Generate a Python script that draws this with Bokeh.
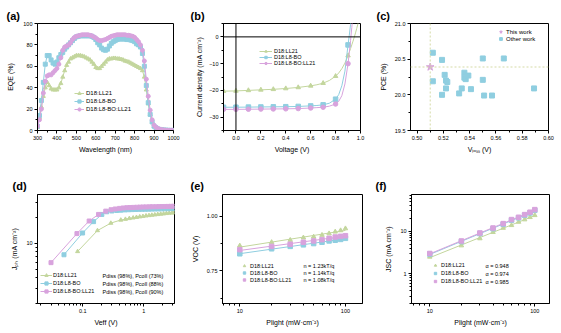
import numpy as np
from bokeh.plotting import figure
from bokeh.layouts import column, row
from bokeh.models import (Legend, LegendItem, Label, Span, FixedTicker,
                          PrintfTickFormatter, CustomJSTickFormatter, Range1d)
from bokeh.embed import file_html
from bokeh.resources import INLINE

FONT = "Liberation Sans"
GREEN = "#c3d69d"
BLUE = "#8fcee0"
PINK = "#d8a3dd"
GUIDE = "#d5dba6"

series_names = ["D18:LL21", "D18:L8-BO", "D18:L8-BO:LL21"]

# ---------------- (a) EQE ----------------
wavelength = list(range(300, 1001, 10))
eqe_ll21 = [3, 12, 22, 32, 40, 45, 42, 39, 38, 38,
            38, 40, 44, 50, 56, 61, 64, 67, 68, 69,
            70, 70, 70, 69.5, 69, 68, 67, 66, 64, 62,
            59, 58, 58, 60, 62, 64, 66, 67, 67, 67.5,
            67.5, 67, 67, 66.5, 66, 65, 64.5, 64, 63, 62,
            61, 60, 59, 58, 56, 50, 38, 25, 15, 8,
            4, 2.5, 1.5, 1, 0.7, 0.5, 0.3, 0.2, 0.2, 0.1,
            0.1]
eqe_l8bo = [4, 14, 28, 45, 62, 70, 70, 66, 63, 62,
            64, 68, 71, 73, 76, 78, 80, 82, 84, 86,
            87.5, 88, 88.5, 88.5, 88.5, 88.5, 88.5, 88.5, 88, 87,
            85, 82, 80, 77, 75.5, 75, 76, 79, 81.5, 83,
            84, 85, 85.5, 85.5, 85.5, 85.5, 85, 85, 84.5, 84,
            83, 81, 80, 78, 72, 60, 42, 26, 15, 8,
            4, 2.5, 1.5, 1, 0.6, 0.4, 0.3, 0.2, 0.1, 0.1,
            0.1]
eqe_tern = [4, 10, 20, 35, 46, 51, 52, 52, 54, 56,
            58, 62, 68, 75, 78, 79, 80, 82, 85, 87,
            88, 88.5, 89, 89.5, 89.5, 89.5, 89.5, 89, 88.5, 87.5,
            86.5, 85, 84, 84, 84.5, 85, 86, 87, 88, 88.5,
            89, 89.5, 89.5, 89.5, 89.5, 89.5, 89, 89, 88.5, 88,
            87, 85, 83, 80, 75, 65, 48, 32, 19, 10,
            5, 3, 1.8, 1.2, 0.8, 0.5, 0.3, 0.2, 0.1, 0.1,
            0.1]
a_xticks = [300, 400, 500, 600, 700, 800, 900, 1000]
a_yticks = [0, 20, 40, 60, 80, 100]

# ---------------- (b) J-V ----------------
jv_v_marker = [-0.1, 0.0, 0.1, 0.2, 0.3, 0.4, 0.5, 0.6, 0.7, 0.8, 0.9]
jv_ll21_marker = [-20.3, -20.2, -20.0, -19.8, -19.6, -19.3, -18.9, -18.3, -17.3, -14.7, -7.0]
jv_l8bo_marker = [-26.3, -26.3, -26.25, -26.2, -26.15, -26.1, -26.0, -25.8, -25.4, -23.3, -3.0]
jv_tern_marker = [-27.1, -27.1, -27.05, -27.0, -26.95, -26.9, -26.8, -26.6, -26.3, -25.1, -10.0]
jv_v_line = [-0.1, 0.0, 0.1, 0.2, 0.3, 0.4, 0.5, 0.6, 0.65, 0.7, 0.75, 0.8, 0.825,
             0.85, 0.875, 0.9, 0.91, 0.92, 0.93, 0.94, 0.95, 0.96, 0.97, 0.98, 1.0]
jv_ll21_line = [-20.3, -20.2, -20.0, -19.8, -19.6, -19.3, -18.9, -18.3, -17.9, -17.3, -16.3,
                -14.7, -13.5, -11.9, -9.8, -7.0, -5.7, -4.4, -3.0, -1.6, -0.1, 1.5, 3.2, 5.0, 8.8]
jv_l8bo_line = [-26.3, -26.3, -26.25, -26.2, -26.15, -26.1, -26.0, -25.8, -25.65, -25.4, -24.8,
                -23.3, -21.6, -18.3, -12.8, -3.0, 0.6, 4.6, 9.0, 14, 19, 24, 29, 34, 44]
jv_tern_line = [-27.1, -27.1, -27.05, -27.0, -26.95, -26.9, -26.8, -26.6, -26.45, -26.3, -25.9,
                -25.1, -24.1, -22.0, -17.6, -10.0, -5.9, -1.4, 3.5, 8.6, 14, 19, 24, 29, 39]
b_xticks = [0.0, 0.2, 0.4, 0.6, 0.8, 1.0]
b_yticks = [-30, -20, -10, 0]

# ---------------- (c) PCE vs Vloss ----------------
other_vloss = [0.512, 0.519, 0.512, 0.521, 0.522, 0.523, 0.522, 0.519, 0.536, 0.536, 0.537,
               0.539, 0.534, 0.532, 0.541, 0.550, 0.550, 0.551, 0.557, 0.566, 0.589]
other_pce = [20.59, 20.49, 20.19, 20.28, 20.20, 20.18, 20.09, 20.00, 20.31, 20.24, 20.22,
             20.27, 20.09, 20.02, 20.08, 20.51, 20.21, 19.99, 19.99, 20.51, 20.09]
this_vloss = [0.510]
this_pce = [20.39]
c_xticks = [0.50, 0.52, 0.54, 0.56, 0.58, 0.60]
c_yticks = [19.5, 20.0, 20.5, 21.0]

# ---------------- (d) Jph vs Veff ----------------
veff_ll21 = [0.082, 0.174, 0.288, 0.42, 0.50, 0.58, 0.67, 0.76, 0.86, 0.97, 1.09,
             1.22, 1.36, 1.52, 1.70, 1.90, 2.12, 2.36, 2.62, 2.90, 3.15]
jph_ll21 = [8.05, 14.1, 17.2, 18.7, 19.1, 19.5, 19.8, 20.1, 20.4, 20.6, 20.9,
            21.1, 21.3, 21.5, 21.7, 21.9, 22.1, 22.3, 22.5, 22.6, 22.7]
veff_l8bo = [0.049, 0.099, 0.150, 0.205, 0.247, 0.30, 0.36, 0.42, 0.49, 0.56, 0.64, 0.73,
             0.83, 0.94, 1.06, 1.20, 1.35, 1.52, 1.72, 1.95, 2.2, 2.5, 2.8, 3.1]
jph_l8bo = [7.37, 13.2, 17.9, 21.7, 23.3, 23.8, 24.1, 24.3, 24.5, 24.6, 24.7, 24.8,
            24.85, 24.9, 24.95, 25.0, 25.05, 25.1, 25.15, 25.2, 25.25, 25.3, 25.35, 25.4]
veff_tern = [0.030, 0.080, 0.127, 0.181, 0.238, 0.29, 0.34, 0.40, 0.46, 0.53, 0.60, 0.68,
             0.77, 0.87, 0.98, 1.10, 1.25, 1.40, 1.60, 1.80, 2.00, 2.25, 2.50, 2.80, 3.10]
jph_tern = [5.97, 13.0, 18.2, 21.7, 23.7, 24.6, 25.1, 25.5, 25.8, 26.0, 26.1, 26.2,
            26.3, 26.4, 26.5, 26.55, 26.6, 26.65, 26.7, 26.75, 26.8, 26.85, 26.9, 26.95, 27.0]
p_labels = ["Pdiss (98%), Pcoll (73%)", "Pdiss (98%), Pcoll (88%)", "Pdiss (98%), Pcoll (90%)"]
d_xticks = [0.1, 1]
d_yticks = [10]

# ---------------- (e) Voc vs Plight ----------------
light = [10, 20, 30, 40, 50, 60, 70, 80, 90, 100]
voc_ll21 = [0.865, 0.881, 0.891, 0.902, 0.906, 0.914, 0.921, 0.929, 0.935, 0.944]
voc_l8bo = [0.828, 0.851, 0.862, 0.869, 0.875, 0.881, 0.887, 0.890, 0.894, 0.899]
voc_tern = [0.847, 0.862, 0.872, 0.881, 0.887, 0.893, 0.899, 0.905, 0.908, 0.911]
n_labels = ["n = 1.23kT/q", "n = 1.14kT/q", "n = 1.08kT/q"]
e_xticks = [10, 100]
e_yticks = [0.75, 1.00]

# ---------------- (f) Jsc vs Plight ----------------
jsc_ll21 = [2.5, 4.6, 6.75, 9.5, 11.9, 13.8, 16.5, 18.8, 21.3, 23.7]
jsc_l8bo = [2.9, 5.7, 8.8, 11.5, 14.6, 18.2, 20.6, 23.8, 27.0, 31.0]
jsc_tern = [3.0, 5.9, 9.1, 11.9, 15.1, 18.8, 21.3, 24.6, 28.0, 32.2]
alpha_labels = ["α = 0.948", "α = 0.974", "α = 0.985"]
f_xticks = [10, 100]
f_yticks = [1, 10]

COLORS = [GREEN, BLUE, PINK]


def make_fig(w, h, l, r, t, b, xr, yr, xt="linear", yt="linear", xlab="", ylab="",
             ylab_standoff=4, title="", title_offset=-31, title_standoff=3):
    p = figure(width=w, height=h, x_range=xr, y_range=yr, x_axis_type=xt, y_axis_type=yt,
               output_backend="svg", toolbar_location=None,
               min_border_left=l, min_border_right=r, min_border_top=t, min_border_bottom=b)
    p.xgrid.visible = False
    p.ygrid.visible = False
    p.outline_line_color = "black"
    p.outline_line_width = 1
    p.outline_line_alpha = 1
    p.background_fill_color = "white"
    p.border_fill_color = "white"
    p.title.text = title
    p.title.align = "left"
    p.title.offset = title_offset
    p.title.standoff = title_standoff
    p.title.text_font = FONT
    p.title.text_font_size = "11px"
    p.title.text_font_style = "bold"
    p.title.text_color = "black"
    for ax in (p.xaxis[0], p.yaxis[0]):
        ax.axis_line_color = "black"
        ax.axis_line_width = 1
        ax.major_tick_line_color = "black"
        ax.minor_tick_line_color = "black"
        ax.major_tick_out = 3
        ax.major_tick_in = 0
        ax.minor_tick_out = 2
        ax.minor_tick_in = 0
        ax.major_label_text_font = FONT
        ax.major_label_text_font_size = "5.5px"
        ax.major_label_text_color = "black"
        ax.axis_label_text_font = FONT
        ax.axis_label_text_font_size = "7px"
        ax.axis_label_text_font_style = "normal"
        ax.axis_label_text_color = "black"
        ax.major_label_standoff = 2
    p.xaxis[0].axis_label = xlab
    p.yaxis[0].axis_label = ylab
    p.xaxis[0].axis_label_standoff = 3
    p.yaxis[0].axis_label_standoff = ylab_standoff
    return p


def add_legend(p, items, x, y, h, gw, fs="6px", standoff=2):
    leg = Legend(items=items, location=(x, y), padding=0, spacing=0, margin=0,
                 label_height=h, glyph_height=h, glyph_width=gw, label_standoff=standoff,
                 label_text_font=FONT, label_text_font_size=fs, label_text_color="black",
                 background_fill_alpha=0, border_line_alpha=0)
    p.add_layout(leg)
    return leg


def add_side_texts(p, texts, x, y, h, fs="5.5px"):
    n = len(texts)
    for i, t in enumerate(texts):
        p.add_layout(Label(x=x, y=y + n * h - (i + 0.5) * h, x_units="screen", y_units="screen",
                           text=t, text_font=FONT, text_font_size=fs, text_baseline="middle",
                           text_align="left", text_color="black"))


def js_fmt():
    return CustomJSTickFormatter(code="return String(tick);")


# ======== (a) ========
pa = make_fig(187, 166, 37, 14, 23, 35, Range1d(300, 1000), Range1d(0, 100),
              xlab="Wavelength (nm)", ylab="EQE (%)", ylab_standoff=6,
              title="(a)", title_offset=-31)
pa.xaxis[0].ticker = FixedTicker(ticks=a_xticks, minor_ticks=[350, 450, 550, 650, 750, 850, 950])
pa.yaxis[0].ticker = FixedTicker(ticks=a_yticks, minor_ticks=[10, 30, 50, 70, 90])
items = []
for ys, c, m, nm in zip([eqe_ll21, eqe_l8bo, eqe_tern], COLORS, ["triangle", "square", "circle"], series_names):
    lr = pa.line(wavelength, ys, color=c, line_width=1)
    sr = pa.scatter(wavelength, ys, marker=m, size=4, color=c)
    items.append(LegendItem(label=nm, renderers=[lr, sr]))
add_legend(pa, items, 37, 17, 8, 10)

# ======== (b) ========
pb = make_fig(187, 166, 36, 14, 23, 36, Range1d(-0.1, 1.0), Range1d(-35, 5),
              xlab="Voltage (V)", ylab="Current density (mA cm⁻²)", ylab_standoff=3,
              title="(b)", title_offset=-33)
pb.xaxis[0].ticker = FixedTicker(ticks=b_xticks, minor_ticks=[-0.1, 0.1, 0.3, 0.5, 0.7, 0.9])
pb.xaxis[0].formatter = PrintfTickFormatter(format="%.1f")
pb.yaxis[0].ticker = FixedTicker(ticks=b_yticks, minor_ticks=[-35, -25, -15, -5, 5])
pb.add_layout(Span(location=0, dimension="width", line_color="black", line_width=1))
pb.add_layout(Span(location=0, dimension="height", line_color="black", line_width=1))
items = []
for yl, ym, c, m, nm in zip([jv_ll21_line, jv_l8bo_line, jv_tern_line],
                            [jv_ll21_marker, jv_l8bo_marker, jv_tern_marker],
                            COLORS, ["triangle", "square", "circle"], series_names):
    lr = pb.line(jv_v_line, yl, color=c, line_width=1)
    sr = pb.scatter(jv_v_marker, ym, marker=m, size=4.5, color=c)
    items.append(LegendItem(label=nm, renderers=[lr, sr]))
add_legend(pb, items, 36, 64, 6, 13, fs="5.5px")

# ======== (c) ========
pc = make_fig(187, 166, 36, 13, 23, 33, Range1d(0.495, 0.60), Range1d(19.5, 21.0),
              xlab="Vₗₒₛₛ (V)", ylab="PCE (%)", ylab_standoff=5,
              title="(c)", title_offset=-34)
pc.xaxis[0].ticker = FixedTicker(ticks=c_xticks, minor_ticks=[0.51, 0.53, 0.55, 0.57, 0.59])
pc.xaxis[0].formatter = PrintfTickFormatter(format="%.2f")
pc.yaxis[0].ticker = FixedTicker(ticks=c_yticks, minor_ticks=[19.75, 20.25, 20.75])
pc.yaxis[0].formatter = PrintfTickFormatter(format="%.1f")
pc.add_layout(Span(location=this_vloss[0], dimension="height", line_color=GUIDE,
                   line_width=1, line_dash="2 2"))
pc.add_layout(Span(location=this_pce[0], dimension="width", line_color=GUIDE,
                   line_width=1, line_dash="2 2"))
so = pc.scatter(other_vloss, other_pce, marker="square", size=5, color=BLUE)
st = pc.scatter(this_vloss, this_pce, marker="star", size=8, color=PINK)
add_legend(pc, [LegendItem(label="This work", renderers=[st]),
                LegendItem(label="Other work", renderers=[so])], 87, 88, 7, 7, fs="6px")

# ======== (d) ========
pd_ = make_fig(187, 167, 37, 13, 28, 28, Range1d(0.018, 3.2), Range1d(2, 37), xt="log", yt="log",
               xlab="Veff (V)", ylab="Jₚₕ (mA cm⁻²)", ylab_standoff=5,
               title="(d)", title_offset=-25, title_standoff=6)
pd_.xaxis[0].ticker = FixedTicker(ticks=d_xticks,
                                  minor_ticks=[0.02, 0.03, 0.04, 0.05, 0.06, 0.07, 0.08, 0.09,
                                               0.2, 0.3, 0.4, 0.5, 0.6, 0.7, 0.8, 0.9, 2, 3])
pd_.xaxis[0].formatter = js_fmt()
pd_.yaxis[0].ticker = FixedTicker(ticks=d_yticks, minor_ticks=[2, 3, 4, 5, 6, 7, 8, 9, 20, 30])
pd_.yaxis[0].formatter = js_fmt()
items = []
for xs, ys, c, m, nm in zip([veff_ll21, veff_l8bo, veff_tern], [jph_ll21, jph_l8bo, jph_tern],
                            COLORS, ["triangle", "square", "square"], series_names):
    lr = pd_.line(xs, ys, color=c, line_width=1)
    sr = pd_.scatter(xs, ys, marker=m, size=4, color=c)
    items.append(LegendItem(label=nm, renderers=[lr, sr]))
add_legend(pd_, items, 3, 8, 8, 12, fs="5.5px", standoff=1)
add_side_texts(pd_, p_labels, 65, 8, 8)

# ======== (e) ========
pe = make_fig(187, 167, 35, 12, 27, 29, Range1d(6.86, 145), Range1d(0.6, 1.1), xt="log",
              xlab="Plight (mW·cm⁻²)", ylab="VOC (V)", ylab_standoff=5,
              title="(e)", title_offset=-32, title_standoff=6)
pe.xaxis[0].ticker = FixedTicker(ticks=e_xticks, minor_ticks=[7, 8, 9, 20, 30, 40, 50, 60, 70, 80, 90])
pe.xaxis[0].formatter = js_fmt()
pe.yaxis[0].ticker = FixedTicker(ticks=e_yticks, minor_ticks=[0.625, 0.875])
pe.yaxis[0].formatter = PrintfTickFormatter(format="%.2f")
items = []
lx = np.log10(light)
for ys, c, m, nm in zip([voc_ll21, voc_l8bo, voc_tern], COLORS, ["triangle", "square", "square"], series_names):
    k, b0 = np.polyfit(lx, ys, 1)
    pe.line(light, k * lx + b0, color=c, line_width=1)
    sr = pe.scatter(light, ys, marker=m, size=4.5, color=c)
    items.append(LegendItem(label=nm, renderers=[sr]))
add_legend(pe, items, 19, 20, 7, 6, fs="5.5px", standoff=3)
add_side_texts(pe, n_labels, 81, 20, 7)

# ======== (f) ========
pf = make_fig(187, 167, 37, 12, 27, 30, Range1d(6.7, 138), Range1d(0.2, 73), xt="log", yt="log",
              xlab="Plight (mW·cm⁻²)", ylab="JSC (mA cm⁻²)", ylab_standoff=5,
              title="(f)", title_offset=-36, title_standoff=6)
pf.xaxis[0].ticker = FixedTicker(ticks=f_xticks, minor_ticks=[7, 8, 9, 20, 30, 40, 50, 60, 70, 80, 90])
pf.xaxis[0].formatter = js_fmt()
pf.yaxis[0].ticker = FixedTicker(ticks=f_yticks,
                                 minor_ticks=[0.2, 0.3, 0.4, 0.5, 0.6, 0.7, 0.8, 0.9,
                                              2, 3, 4, 5, 6, 7, 8, 9, 20, 30, 40, 50, 60, 70])
pf.yaxis[0].formatter = js_fmt()
items = []
for ys, c, m, nm in zip([jsc_ll21, jsc_l8bo, jsc_tern], COLORS, ["triangle", "square", "square"], series_names):
    k, b0 = np.polyfit(lx, np.log10(ys), 1)
    pf.line(light, 10 ** (k * lx + b0), color=c, line_width=1)
    sr = pf.scatter(light, ys, marker=m, size=4.5, color=c)
    items.append(LegendItem(label=nm, renderers=[sr]))
add_legend(pf, items, 21, 18, 8, 6, fs="5.5px", standoff=3)
add_side_texts(pf, alpha_labels, 74, 18, 8)

layout = column(row(pa, pb, pc, spacing=0), row(pd_, pe, pf, spacing=0), spacing=0)
open("out.html", "w").write(file_html(layout, INLINE))
